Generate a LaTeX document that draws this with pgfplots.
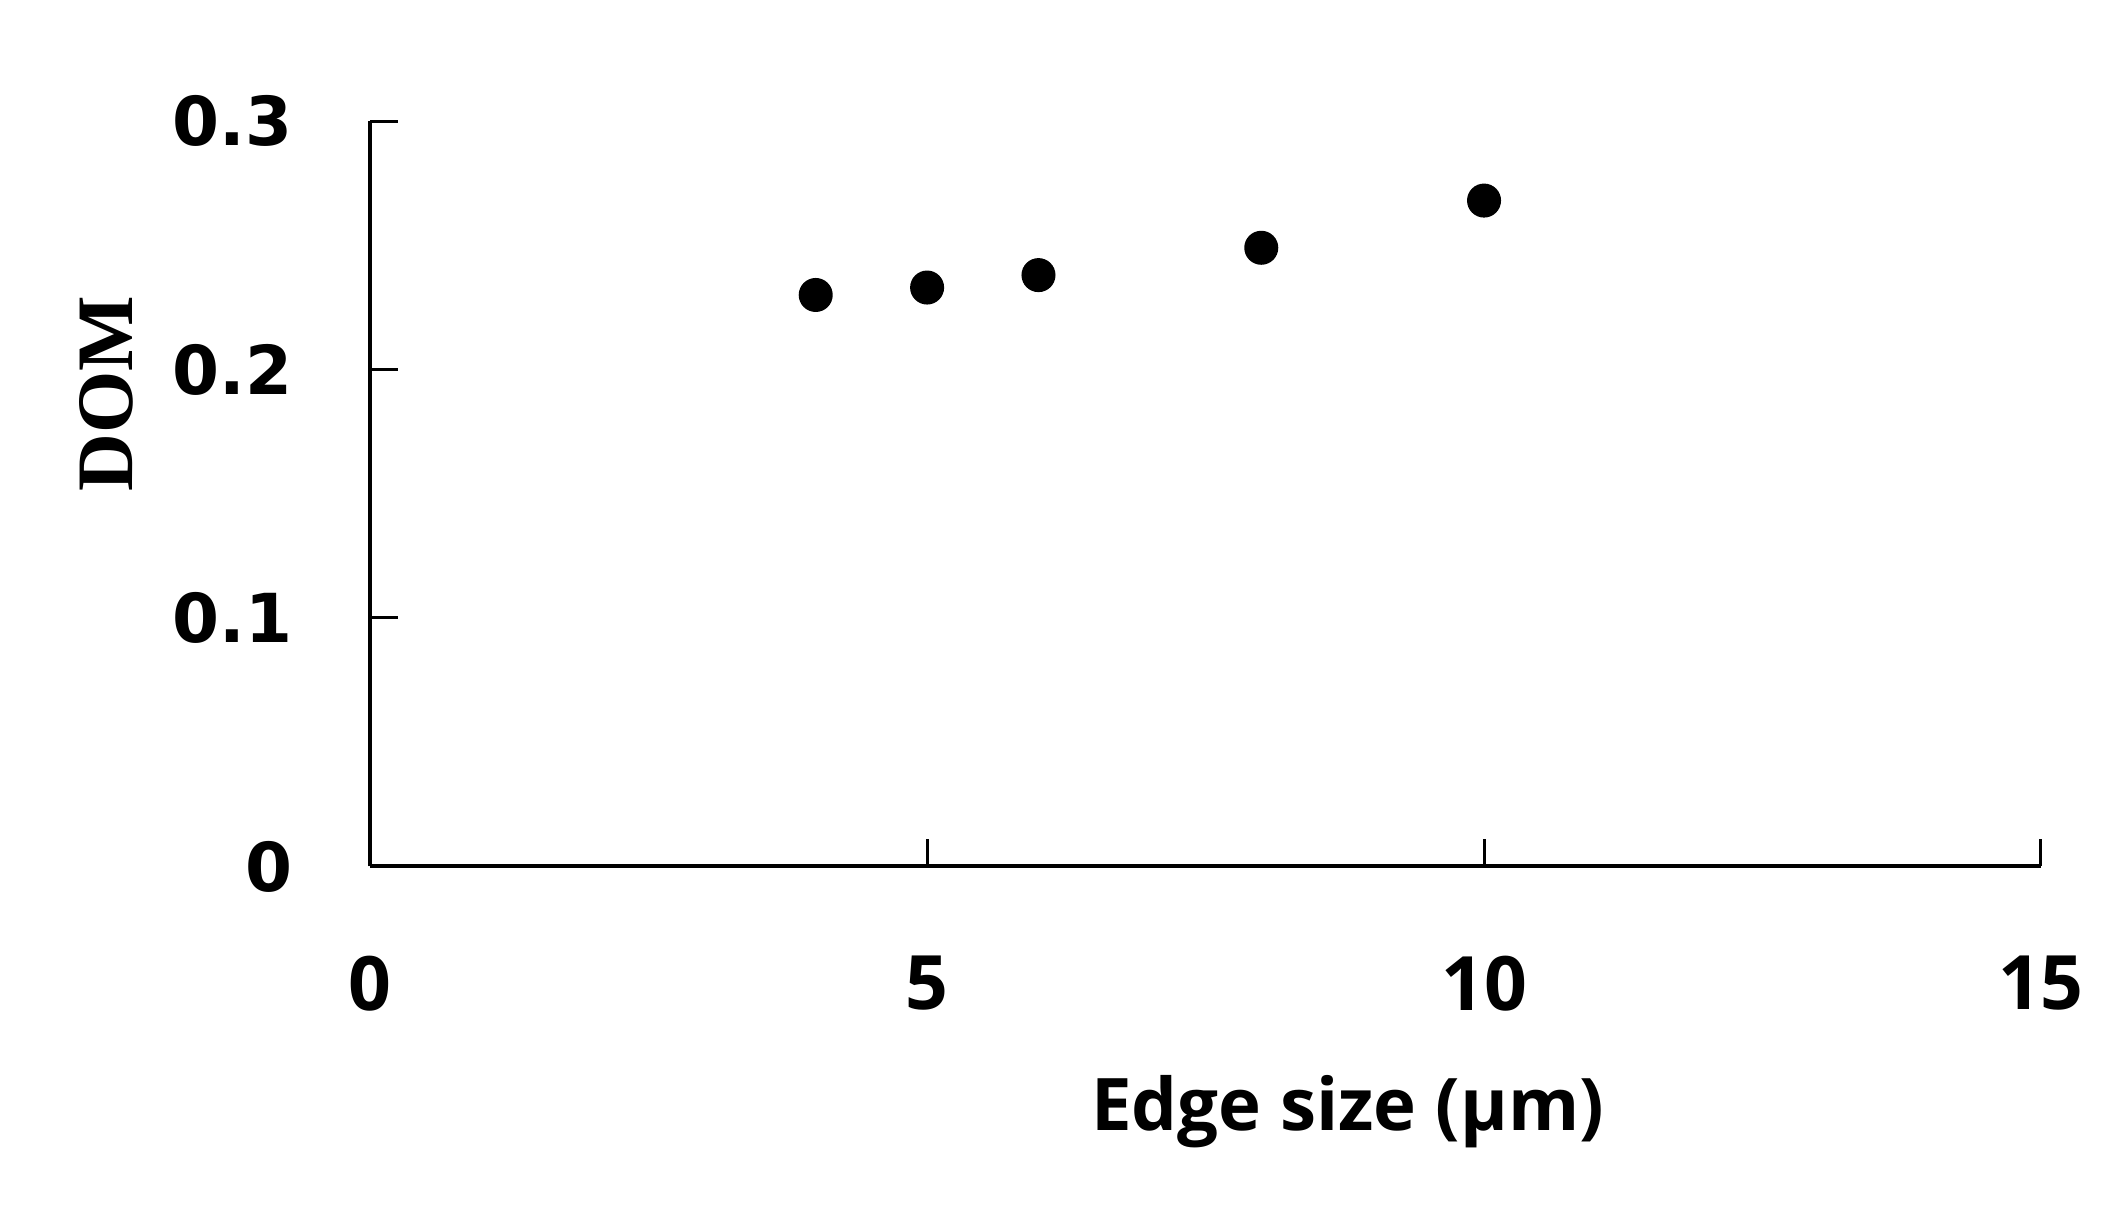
\documentclass[border=0pt]{standalone}
\usepackage{fontspec}
\setmainfont{DejaVu Sans}
\newfontfamily\labfont{Open Sans}
\newfontfamily\domfont{Liberation Serif}
\usepackage{pgfplots}
\pgfplotsset{compat=1.18}

\begin{document}
\begin{tikzpicture}
\begin{axis}[name=ax,
  width=334pt,height=149pt,scale only axis,
  axis lines=left,axis line style={line width=0.8pt,-},
  xmin=0,xmax=15,ymin=0,ymax=0.3,
  xtick={0,5,10,15},ytick={0,0.1,0.2,0.3},
  yticklabels={0,0.1,0.2,0.3},
  tick align=inside,major tick length=5.5pt,
  tick style={line width=0.6pt,black},
  /pgf/number format/assume math mode=true,
  x tick label style={font=\labfont\bfseries\fontsize{15}{18}\selectfont,yshift=-14.3pt},
  y tick label style={font=\bfseries\fontsize{13.5}{16}\selectfont,xshift=-12pt},
  xlabel={Edge size (μm)},
  xlabel style={font=\labfont\bfseries\fontsize{14.5}{17}\selectfont,
    at={(axis description cs:0.585,0)},anchor=center,yshift=-49pt},
  ylabel={DOM},
  ylabel style={font=\domfont\bfseries\fontsize{16}{18}\selectfont,
    at={(axis description cs:-0.158,0.634)},anchor=center},
  clip=false]
\addplot[only marks,mark=*,mark size=3.2pt,black] coordinates {
  (4,0.230) (5,0.233) (6,0.238) (8,0.249) (10,0.268)};
\end{axis}
\pgfresetboundingbox
\path[use as bounding box] ([shift={(-74pt,-67.8pt)}]ax.south west) rectangle ([shift={(16.8pt,24.2pt)}]ax.north east);
\end{tikzpicture}
\end{document}
